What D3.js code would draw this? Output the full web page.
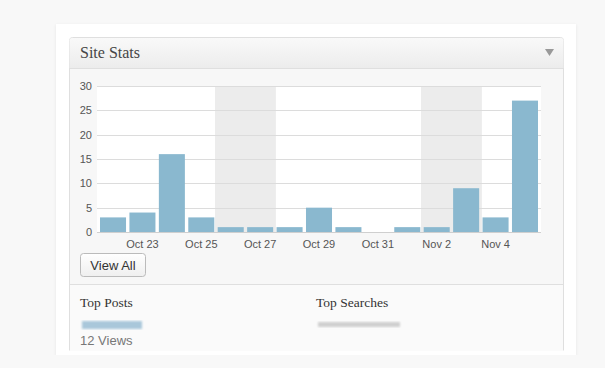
<!DOCTYPE html>
<html><head><meta charset="utf-8">
<script src="https://cdn.jsdelivr.net/npm/d3@7/dist/d3.min.js"></script>
<style>
html,body{margin:0;padding:0;background:#f8f8f8;}
svg{display:block;}
</style></head>
<body>
<script>
const categories = ["Oct 22","Oct 23","Oct 24","Oct 25","Oct 26","Oct 27","Oct 28","Oct 29","Oct 30","Oct 31","Nov 1","Nov 2","Nov 3","Nov 4","Nov 5"];
const views = [3,4,16,3,1,1,1,5,1,0,1,1,9,3,27];
const weekends = [["Oct 26","Oct 27"],["Nov 2","Nov 3"]];
const tickLabels = ["Oct 23","Oct 25","Oct 27","Oct 29","Oct 31","Nov 2","Nov 4"];
const yTicks = [0,5,10,15,20,25,30];

const W = 605, H = 368;
const SERIF = "'Liberation Serif', 'Times New Roman', serif";
const SANS = "'Liberation Sans', Arial, sans-serif";
const svg = d3.select("body").append("svg").attr("width", W).attr("height", H);
const defs = svg.append("defs");
const f = defs.append("filter").attr("id","sh").attr("x","-5%").attr("y","-5%").attr("width","110%").attr("height","110%");
f.append("feDropShadow").attr("dx",0).attr("dy",1).attr("stdDeviation",1.5).attr("flood-color","#000").attr("flood-opacity",0.08);
const hg = defs.append("linearGradient").attr("id","hg").attr("x1",0).attr("y1",0).attr("x2",0).attr("y2",1);
hg.append("stop").attr("offset","0").attr("stop-color","#f9f9f9");
hg.append("stop").attr("offset","1").attr("stop-color","#ececec");
const bg = defs.append("linearGradient").attr("id","bg").attr("x1",0).attr("y1",0).attr("x2",0).attr("y2",1);
bg.append("stop").attr("offset","0").attr("stop-color","#ffffff");
bg.append("stop").attr("offset","1").attr("stop-color","#efefef");

// outer card
svg.append("rect").attr("x",56).attr("y",24).attr("width",520).attr("height",331).attr("fill","#fff").attr("filter","url(#sh)");
// postbox
svg.append("rect").attr("x",69.5).attr("y",37.5).attr("width",494).attr("height",320).attr("rx",3).attr("fill","#f7f7f7").attr("stroke","#dfdfdf");
svg.append("path").attr("d","M69.5,68 V41 a3,3 0 0 1 3,-3 H560.5 a3,3 0 0 1 3,3 V68 Z").attr("fill","url(#hg)");
svg.append("line").attr("x1",70).attr("x2",563).attr("y1",68.5).attr("y2",68.5).attr("stroke","#dfdfdf");
svg.append("rect").attr("x",56).attr("y",350.5).attr("width",520).attr("height",4.5).attr("fill","#fff");
svg.append("rect").attr("x",0).attr("y",355).attr("width",W).attr("height",13).attr("fill","#f8f8f8");

svg.append("text").attr("x",80).attr("y",58).text("Site Stats")
  .attr("font-family",SERIF).attr("font-size",16).attr("fill","#464646");
svg.append("path").attr("d","M545,49 L554,49 L549.5,56 Z").attr("fill","#999");

// chart
const x = d3.scaleBand().domain(categories).range([98.3, 539.7]).padding(0);
const y = d3.scaleLinear().domain([0,30]).range([232, 86]);
const g = svg.append("g");
g.append("rect").attr("x",97).attr("y",86).attr("width",444).attr("height",146).attr("fill","#fff");
weekends.forEach(([a,b]) => {
  g.append("rect").attr("x",x(a)-1).attr("y",86).attr("width",x(b)+x.bandwidth()+1-x(a)+1).attr("height",146).attr("fill","#ececec");
});
g.selectAll(".grid").data(yTicks).join("line").attr("class","grid")
  .attr("x1",97).attr("x2",541).attr("y1",d=>Math.round(y(d))+0.5).attr("y2",d=>Math.round(y(d))+0.5)
  .attr("stroke",d=>d===0?"#cfcfcf":"#dcdcdc");
g.selectAll(".bar").data(views.map((v,i)=>({c:categories[i],v}))).join("rect").attr("class","bar")
  .attr("x",d=>x(d.c)+1.7).attr("width",x.bandwidth()-3.4)
  .attr("y",d=>y(d.v)).attr("height",d=>y(0)-y(d.v)).attr("fill","#8ab8cf");
const yAxis = d3.axisLeft(y).tickValues(yTicks).tickSize(0).tickPadding(0);
const ya = g.append("g").attr("transform","translate(92,0)").call(yAxis);
ya.select(".domain").remove();
ya.selectAll("text").attr("font-family",SANS).attr("font-size",11).attr("fill","#555");
const xAxis = d3.axisBottom(x).tickValues(tickLabels).tickSize(0).tickPadding(0);
const xa = g.append("g").attr("transform","translate(0,240)").call(xAxis);
xa.select(".domain").remove();
xa.selectAll("text").attr("font-family",SANS).attr("font-size",11).attr("fill","#555");

// View All button
svg.append("rect").attr("x",80.5).attr("y",253.5).attr("width",65).attr("height",23).attr("rx",3).attr("fill","url(#bg)").attr("stroke","#bbb");
svg.append("text").attr("x",113).attr("y",269.5).attr("text-anchor","middle").text("View All")
  .attr("font-family",SANS).attr("font-size",13).attr("fill","#333");

svg.append("line").attr("x1",70).attr("x2",563).attr("y1",284.5).attr("y2",284.5).attr("stroke","#dfdfdf");
svg.append("rect").attr("x",70).attr("y",285).attr("width",493).attr("height",65).attr("fill","#fafafa");

svg.append("text").attr("x",80).attr("y",307).text("Top Posts")
  .attr("font-family",SERIF).attr("font-size",13.5).attr("fill","#333");
svg.append("text").attr("x",316).attr("y",307).text("Top Searches")
  .attr("font-family",SERIF).attr("font-size",13.5).attr("fill","#333");
const blur = defs.append("filter").attr("id","bl"); blur.append("feGaussianBlur").attr("stdDeviation",1);
svg.append("rect").attr("x",82).attr("y",321).attr("width",60).attr("height",8).attr("fill","#a9c7da").attr("filter","url(#bl)");
svg.append("rect").attr("x",318).attr("y",322).attr("width",82).attr("height",5).attr("fill","#cfcfcf").attr("filter","url(#bl)");
svg.append("text").attr("x",80).attr("y",345).text("12 Views")
  .attr("font-family",SANS).attr("font-size",13).attr("fill","#777");
</script>
</body></html>
